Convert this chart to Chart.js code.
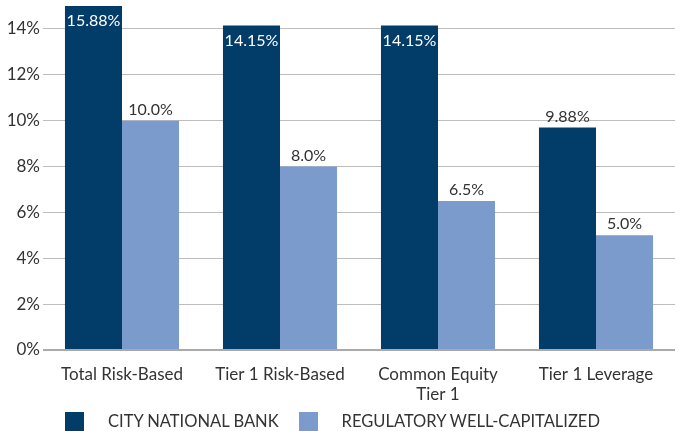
<!DOCTYPE html>
<html>
<head>
<meta charset="utf-8">
<script src="https://cdn.jsdelivr.net/npm/chart.js@4.4.0/dist/chart.umd.min.js"></script>
<style>
  html, body { margin: 0; padding: 0; background: #fff; }
  #wrap { position: relative; width: 679px; height: 431px; overflow: hidden; }
  #legend { position: absolute; top: 411px; left: 65px; font: 16.5px Lato, sans-serif; line-height: 20px; color: #333; white-space: nowrap; }
  .item { display: inline-block; }
  .box { display: inline-block; width: 19px; height: 19px; vertical-align: -4px; margin-right: 24px; }
</style>
</head>
<body>
<div id="wrap">
  <canvas id="capitalChart" width="679" height="431"></canvas>
  <div id="legend"></div>
</div>
<script>
const categories = [['Total Risk-Based'], ['Tier 1 Risk-Based'], ['Common Equity', 'Tier 1'], ['Tier 1 Leverage']];
const seriesNames = ['CITY NATIONAL BANK', 'REGULATORY WELL-CAPITALIZED'];
const bankValues = [15.88, 14.15, 14.15, 9.7];
const bankLabels = ['15.88%', '14.15%', '14.15%', '9.88%'];
const regValues = [10.0, 8.0, 6.5, 5.0];
const regLabels = ['10.0%', '8.0%', '6.5%', '5.0%'];
const colors = ['#023c69', '#7a9bcb'];

const valueLabels = {
    id: 'valueLabels',
    afterDatasetsDraw(chart) {
        const ctx = chart.ctx;
        const top = chart.chartArea.top;
        ctx.save();
        ctx.font = '16px Lato, sans-serif';
        ctx.textAlign = 'center';
        chart.data.datasets.forEach((ds, i) => {
            chart.getDatasetMeta(i).data.forEach((bar, j) => {
                if (ds.data[j] > 12) {
                    ctx.fillStyle = '#fff';
                    ctx.textBaseline = 'middle';
                    ctx.fillText(ds.valueLabels[j], bar.x, Math.max(bar.y, top) + 15);
                } else {
                    ctx.fillStyle = '#333';
                    ctx.textBaseline = 'bottom';
                    ctx.fillText(ds.valueLabels[j], bar.x, bar.y - 3);
                }
            });
        });
        ctx.restore();
    }
};

const ctx = document.getElementById('capitalChart').getContext('2d');
let capitalChart = new Chart(ctx, {
    type: 'bar',
    data: {
        labels: categories,
        datasets: [
            { label: seriesNames[0], data: bankValues, valueLabels: bankLabels, backgroundColor: colors[0] },
            { label: seriesNames[1], data: regValues, valueLabels: regLabels, backgroundColor: colors[1] }
        ]
    },
    options: {
        responsive: false,
        animation: false,
        categoryPercentage: 0.722,
        barPercentage: 1.0,
        layout: { padding: { top: 6, right: 4, bottom: 21, left: 0 } },
        plugins: { legend: { display: false }, tooltip: { enabled: false } },
        scales: {
            x: {
                grid: { display: false },
                border: { display: false },
                ticks: { color: '#333', font: { family: 'Lato', size: 17, lineHeight: 1.2 }, padding: 6 },
                afterFit(scale) { scale.height = 60; }
            },
            y: {
                min: 0,
                max: 15,
                border: { display: false },
                grid: {
                    color: ctx => ctx.tick && ctx.tick.value === 0 ? '#aaa' : '#bdbdbd',
                    lineWidth: ctx => ctx.tick && ctx.tick.value === 0 ? 2 : 1,
                    drawTicks: false
                },
                ticks: {
                    stepSize: 2,
                    includeBounds: false,
                    color: '#333',
                    padding: 3,
                    font: { family: 'Lato', size: 17 },
                    callback: v => v + '%'
                },
                afterFit(scale) { scale.width = 43; scale.paddingTop = 0; }
            }
        }
    },
    plugins: [valueLabels]
});

document.getElementById('legend').innerHTML = seriesNames.map((name, i) =>
    '<span class="item" style="margin-right:' + (i === 0 ? '20px' : '0') + '"><span class="box" style="background:' + colors[i] + '"></span>' + name + '</span>'
).join('');
</script>
</body>
</html>
